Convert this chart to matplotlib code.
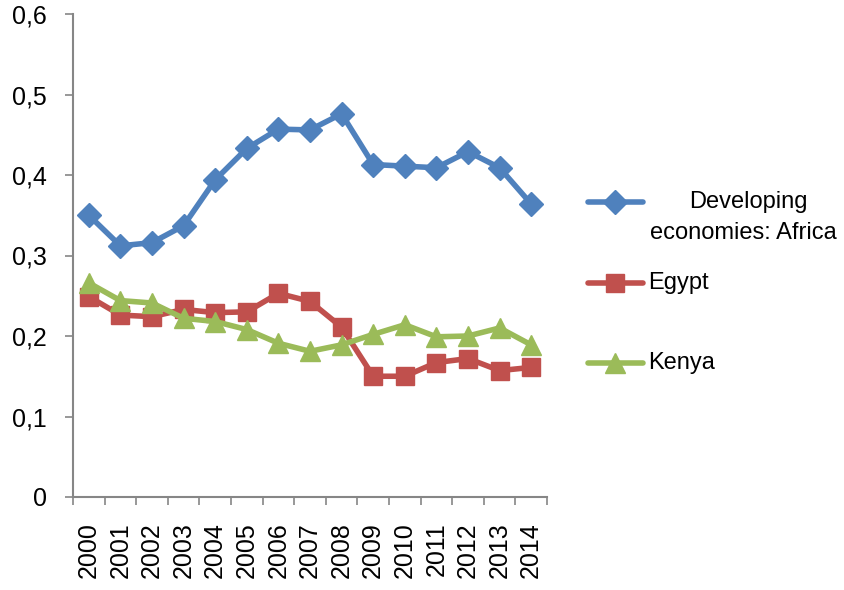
import matplotlib
matplotlib.use("Agg")
import matplotlib.pyplot as plt
from matplotlib.lines import Line2D
from matplotlib.ticker import FixedLocator, FuncFormatter

years = [str(y) for y in range(2000, 2015)]
africa = [0.350, 0.312, 0.316, 0.337, 0.394, 0.433, 0.457, 0.456, 0.476,
          0.413, 0.411, 0.409, 0.429, 0.409, 0.364]
egypt = [0.249, 0.226, 0.224, 0.233, 0.229, 0.230, 0.253, 0.243, 0.211,
         0.150, 0.150, 0.167, 0.172, 0.157, 0.161]
kenya = [0.266, 0.244, 0.241, 0.222, 0.218, 0.208, 0.191, 0.181, 0.189,
         0.202, 0.214, 0.199, 0.200, 0.210, 0.189]
series_names = ["Developing\neconomies: Africa", "Egypt", "Kenya"]
y_ticks = [0, 0.1, 0.2, 0.3, 0.4, 0.5, 0.6]

colors = ["#4F81BD", "#C0504D", "#9BBB59"]
markers = ["D", "s", "^"]
msizes = [12.5, 13, 14]

plt.rcParams['font.family'] = ['Liberation Sans', 'DejaVu Sans']
fig = plt.figure(figsize=(8.44, 5.90), dpi=100)
ax = fig.add_axes([73/844, 1-497/590, (547-73)/844, (497-14)/590])

x = list(range(len(years)))
for vals, c, m, ms in zip([africa, egypt, kenya], colors, markers, msizes):
    ax.plot(x, vals, color=c, lw=4, marker=m, markersize=ms,
            markerfacecolor=c, markeredgecolor=c, solid_joinstyle='round')

ax.set_xlim(-0.5, len(years) - 0.5)
ax.set_ylim(0, 0.6)
ax.set_yticks(y_ticks)
ax.yaxis.set_major_formatter(FuncFormatter(lambda v, p: ("%g" % round(v, 1)).replace(".", ",")))
ax.set_xticks(x)
ax.set_xticklabels(years, rotation=90)
ax.xaxis.set_minor_locator(FixedLocator([i - 0.5 for i in range(len(years) + 1)]))
ax.tick_params(axis='x', which='major', length=0, pad=18, labelsize=18)
ax.tick_params(axis='x', which='minor', length=6, color='#868686', width=1.2, direction='out')
ax.tick_params(axis='y', length=6, color='#868686', width=1.2, labelsize=18, pad=13)
for s in ['top', 'right']:
    ax.spines[s].set_visible(False)
for s in ['left', 'bottom']:
    ax.spines[s].set_color('#868686')
    ax.spines[s].set_linewidth(1.5)

# legend (manual)
leg_y = [202, 283, 363]
for (c, m, ms, name, yy) in zip(colors, markers, msizes, series_names, leg_y):
    fy = 1 - yy/590
    fig.add_artist(Line2D([588/844, 643/844], [fy, fy], transform=fig.transFigure,
                          color=c, lw=4, solid_capstyle='round'))
    fig.add_artist(Line2D([615/844], [fy], transform=fig.transFigure, color=c,
                          marker=m, markersize=ms, markerfacecolor=c, markeredgecolor=c))
    if "\n" in name:
        fig.text(748/844, fy, name.split("\n")[0], ha='center', va='center', fontsize=17)
        fig.text(743/844, 1 - 233/590, name.split("\n")[1], ha='center', va='center', fontsize=17)
    else:
        fig.text(648/844, fy, name, ha='left', va='center', fontsize=17)

fig.savefig("out.png", dpi=100)
